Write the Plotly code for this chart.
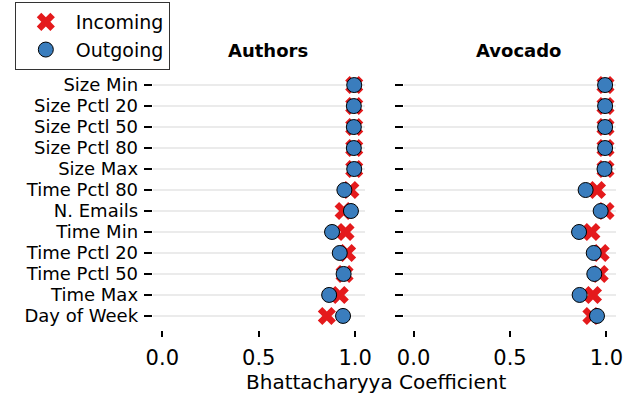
import plotly.graph_objects as go

# Feature names, top to bottom
features = ["Size Min", "Size Pctl 20", "Size Pctl 50", "Size Pctl 80", "Size Max",
            "Time Pctl 80", "N. Emails", "Time Min", "Time Pctl 20", "Time Pctl 50",
            "Time Max", "Day of Week"]

# Bhattacharyya coefficients per dataset
authors_incoming = [0.995, 0.995, 0.995, 0.995, 0.995, 0.975, 0.94, 0.95, 0.958, 0.945, 0.92, 0.853]
authors_outgoing = [0.995, 0.993, 0.993, 0.993, 0.995, 0.944, 0.978, 0.88, 0.92, 0.94, 0.865, 0.937]
avocado_incoming = [0.995, 0.995, 0.995, 0.995, 0.995, 0.951, 0.995, 0.922, 0.97, 0.965, 0.93, 0.922]
avocado_outgoing = [0.993, 0.993, 0.993, 0.993, 0.99, 0.892, 0.97, 0.858, 0.934, 0.937, 0.861, 0.951]

panel_titles = ["Authors", "Avocado"]
x_ticks = [0.0, 0.5, 1.0]
x_tick_labels = ["0.0", "0.5", "1.0"]

RED = "#e41a1c"
BLUE = "#3a7dbd"
FONT = "DejaVu Sans"

fig = go.Figure()

panels = [("x", "y", authors_incoming, authors_outgoing),
          ("x2", "y2", avocado_incoming, avocado_outgoing)]
for i, (xa, ya, inc, out) in enumerate(panels):
    fig.add_trace(go.Scatter(
        x=inc, y=features, xaxis=xa, yaxis=ya, mode="markers", name="Incoming",
        showlegend=(i == 0), legendgroup="in",
        marker=dict(symbol="x", size=16, color=RED, line=dict(width=0))))
    fig.add_trace(go.Scatter(
        x=out, y=features, xaxis=xa, yaxis=ya, mode="markers", name="Outgoing",
        showlegend=(i == 0), legendgroup="out",
        marker=dict(symbol="circle", size=15, color=BLUE, line=dict(width=1, color="black"))))

W, H = 627, 399
xdom1 = [149 / W, 366 / W]
xdom2 = [406 / W, 623 / W]
ydom = [1 - 330 / H, 1 - 71 / H]

xcommon = dict(range=[-0.05, 1.05], tickvals=x_ticks, ticktext=x_tick_labels,
               showgrid=False, zeroline=False, showline=False,
               ticks="outside", ticklen=6, tickwidth=1.5, tickcolor="black",
               ticklabelstandoff=3,
               tickfont=dict(size=21, color="black", family=FONT))
ycommon = dict(categoryorder="array", categoryarray=features[::-1],
               tickmode="array", tickvals=features, ticktext=features,
               range=[-0.67, len(features) - 0.33],
               showgrid=True, gridcolor="#ebebeb", gridwidth=2,
               zeroline=False, showline=False,
               ticks="outside", ticklen=8, tickwidth=2, tickcolor="black",
               ticklabelstandoff=2,
               tickfont=dict(size=18, color="black", family=FONT))

fig.update_layout(
    width=W, height=H,
    margin=dict(l=0, r=0, t=0, b=0),
    paper_bgcolor="white", plot_bgcolor="white",
    font=dict(family=FONT, size=19, color="black"),
    xaxis=dict(domain=xdom1, anchor="y", **xcommon),
    xaxis2=dict(domain=xdom2, anchor="y2", **xcommon),
    yaxis=dict(domain=ydom, anchor="x", **ycommon),
    yaxis2=dict(domain=ydom, anchor="x2", showticklabels=False, **ycommon),
    legend=dict(x=8 / W, y=1 - 2 / H, xanchor="left", yanchor="top",
                bgcolor="white", bordercolor="#333333", borderwidth=1,
                font=dict(size=19, family=FONT), itemwidth=50,
                tracegroupgap=0),
    showlegend=True,
)

for title, cx in zip(panel_titles, [267, 523]):
    fig.add_annotation(text="<b>%s</b>" % title, x=cx / W, y=1 - 50 / H,
                       xref="paper", yref="paper", showarrow=False,
                       xanchor="center", yanchor="middle",
                       font=dict(size=18, family=FONT, color="black"))

fig.add_annotation(text="Bhattacharyya Coefficient", x=377 / W, y=1 - 382 / H,
                   xref="paper", yref="paper", showarrow=False,
                   xanchor="center", yanchor="middle",
                   font=dict(size=20, family=FONT, color="black"))

fig.write_html("out.html")
